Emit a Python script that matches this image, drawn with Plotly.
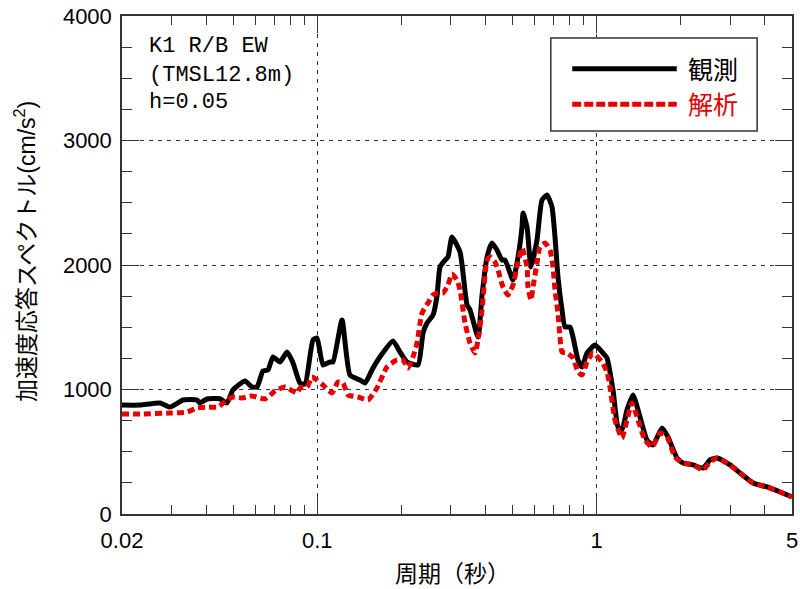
import plotly.graph_objects as go

# ---- data (period [s], spectral acceleration [cm/s^2]) ----
obs_period = [0.0200, 0.0232, 0.0274, 0.0297, 0.0331, 0.0371, 0.0380, 0.0403, 0.0448, 0.0475,
              0.0499, 0.0551, 0.0584, 0.0609, 0.0639, 0.0666, 0.0694, 0.0735, 0.0779, 0.0819,
              0.0867, 0.0904, 0.0965, 0.0998, 0.1048, 0.1110, 0.1138, 0.1226, 0.1309, 0.1422,
              0.1482, 0.1583, 0.1704, 0.1866, 0.1977, 0.2094, 0.2293, 0.2390, 0.2470, 0.2595,
              0.2682, 0.2749, 0.2864, 0.2936, 0.3034, 0.3242, 0.3323, 0.3435, 0.3521, 0.3761,
              0.3887, 0.4050, 0.4219, 0.4396, 0.4581, 0.4697, 0.5017, 0.5229, 0.5404, 0.5449,
              0.5631, 0.5819, 0.6114, 0.6371, 0.6639, 0.6918, 0.7091, 0.7268, 0.7513, 0.7700,
              0.8024, 0.8224, 0.8570, 0.8859, 0.9231, 0.9861, 1.0532, 1.0884, 1.1437, 1.1918,
              1.2314, 1.2832, 1.3486, 1.4289, 1.5136, 1.5907, 1.7131, 1.8000, 1.9380, 2.0362,
              2.2120, 2.4025, 2.5447, 2.6960, 3.0006, 3.2593, 3.6269, 4.0695, 4.5313, 5.0000]
obs_value = [875, 875, 892, 859, 916, 916, 892, 924, 926, 892,
             996, 1068, 1020, 1020, 1149, 1157, 1261, 1221, 1301, 1213,
             1052, 1044, 1398, 1414, 1197, 1221, 1221, 1558, 1116, 1076,
             1052, 1173, 1285, 1390, 1301, 1221, 1197, 1454, 1534, 1598,
             1751, 1984, 2040, 2064, 2225, 2104, 1936, 1679, 1639, 1422,
             1759, 2064, 2177, 2120, 2040, 2040, 1879, 2064, 2305, 2418,
             2305, 1984, 2201, 2522, 2562, 2466, 2225, 1904, 1639, 1502,
             1502, 1422, 1237, 1181, 1293, 1357, 1293, 1253, 996, 699,
             675, 835, 956, 779, 594, 554, 691, 618, 450, 410,
             394, 369, 434, 450, 394, 329, 249, 217, 177, 137]

ana_period = [0.0200, 0.0232, 0.0297, 0.0342, 0.0371, 0.0406, 0.0441, 0.0475, 0.0499, 0.0538,
              0.0584, 0.0650, 0.0706, 0.0766, 0.0846, 0.0867, 0.0919, 0.0957, 0.0998, 0.1048,
              0.1129, 0.1186, 0.1236, 0.1288, 0.1398, 0.1519, 0.1635, 0.1776, 0.1928, 0.2026,
              0.2111, 0.2200, 0.2274, 0.2370, 0.2490, 0.2595, 0.2704, 0.2818, 0.2936, 0.3034,
              0.3162, 0.3242, 0.3379, 0.3521, 0.3669, 0.3761, 0.3887, 0.4050, 0.4152, 0.4325,
              0.4433, 0.4620, 0.4814, 0.5017, 0.5229, 0.5404, 0.5631, 0.5678, 0.5819, 0.5916,
              0.6114, 0.6266, 0.6530, 0.6805, 0.6975, 0.7091, 0.7268, 0.7389, 0.7513, 0.7829,
              0.8224, 0.8570, 0.8859, 0.9231, 0.9699, 1.0445, 1.0884, 1.1158, 1.1628, 1.2314,
              1.2832, 1.3374, 1.4054, 1.4891, 1.5776, 1.6853, 1.7850, 1.9066, 2.0362, 2.2120,
              2.4025, 2.5447, 2.6960, 3.0006, 3.2593, 3.6269, 4.0695, 4.5313, 5.0000]
ana_value = [803, 803, 811, 819, 851, 859, 859, 916, 940, 932,
             948, 924, 988, 1020, 972, 1012, 1020, 1100, 1076, 1036,
             972, 1060, 1052, 956, 940, 916, 1012, 1181, 1237, 1237,
             1173, 1261, 1373, 1614, 1695, 1759, 1775, 1775, 1839, 1928,
             1879, 1799, 1534, 1373, 1293, 1398, 1639, 2040, 2064, 2024,
             1960, 1823, 1759, 1839, 2024, 2137, 1984, 1823, 1719, 1823,
             2016, 2145, 2177, 2120, 1984, 1799, 1614, 1422, 1301, 1293,
             1253, 1141, 1116, 1221, 1293, 1221, 1141, 1020, 755, 610,
             755, 892, 755, 594, 538, 651, 618, 458, 410, 394,
             353, 418, 450, 394, 329, 249, 217, 177, 137]

x_tickvals = [0.02, 0.1, 1, 5]
x_ticktext = ["0.02", "0.1", "1", "5"]
x_minor = [0.03, 0.04, 0.05, 0.06, 0.07, 0.08, 0.09, 0.2, 0.3, 0.4, 0.5, 0.6, 0.7, 0.8, 0.9, 2, 3, 4]
y_tickvals = [0, 1000, 2000, 3000, 4000]

series_names = ["観測", "解析"]
info_lines = ["K1 R/B EW", "(TMSL12.8m)", "h=0.05"]

BLACK = "#000000"
RED = "#e60000"
SANS = "Liberation Sans, Arial, Noto Sans CJK JP"
CJK = "Noto Sans CJK JP, Liberation Sans"
MONO = "Liberation Mono, DejaVu Sans Mono"

fig = go.Figure()
fig.add_trace(go.Scatter(x=obs_period, y=obs_value, mode="lines", name=series_names[0],
                         line=dict(color=BLACK, width=5, shape="spline", smoothing=0.5),
                         showlegend=False))
fig.add_trace(go.Scatter(x=ana_period, y=ana_value, mode="lines", name=series_names[1],
                         line=dict(color=RED, width=5, dash="7px,4px", shape="spline", smoothing=0.5),
                         showlegend=False))

axis_common = dict(showline=True, linecolor="#333333", linewidth=1.5, mirror="allticks",
                   ticks="inside", ticklen=17, tickcolor="#333333", tickwidth=1,
                   showgrid=True, gridcolor="#333333", gridwidth=1, griddash="4px,5px",
                   zeroline=False, automargin=False,
                   tickfont=dict(family=SANS, size=22, color=BLACK))

fig.update_xaxes(type="log", range=[-1.69897, 0.69897], tickvals=x_tickvals, ticktext=x_ticktext,
                 minor=dict(tickvals=x_minor, ticks="inside", ticklen=9, tickcolor="#333333", showgrid=False),
                 ticklabelstandoff=6, **axis_common)
fig.update_yaxes(range=[0, 4000], tickvals=y_tickvals,
                 minor=dict(dtick=250, ticks="inside", ticklen=10, tickcolor="#333333", showgrid=False),
                 ticklabelstandoff=4, **axis_common)

annotations = []
for txt, yy in zip(info_lines, [0.939, 0.8815, 0.827]):
    annotations.append(dict(x=0.0373, y=yy, xref="paper", yref="paper", text=txt, showarrow=False,
                            xanchor="left", yanchor="middle",
                            font=dict(family=MONO, size=22, color=BLACK)))
# legend texts
annotations.append(dict(x=0.842, y=0.896, xref="paper", yref="paper", text=series_names[0], showarrow=False,
                        xanchor="left", yanchor="middle", font=dict(family=CJK, size=25, color=BLACK)))
annotations.append(dict(x=0.842, y=0.825, xref="paper", yref="paper", text=series_names[1], showarrow=False,
                        xanchor="left", yanchor="middle", font=dict(family=CJK, size=25, color=RED)))
# axis titles
annotations.append(dict(x=0.494, y=-0.1165, xref="paper", yref="paper", text="周期（秒）", showarrow=False,
                        xanchor="center", yanchor="middle", font=dict(family=CJK, size=23, color=BLACK)))
annotations.append(dict(x=-0.1448, y=0.528, xref="paper", yref="paper",
                        text="加速度応答スペクトル(cm/s<sup>2</sup>)", showarrow=False, textangle=-90,
                        xanchor="center", yanchor="middle", font=dict(family=SANS, size=23, color=BLACK)))

shapes = [
    dict(type="rect", xref="paper", yref="paper", x0=0.640, x1=0.948, y0=0.769, y1=0.956,
         line=dict(color="#333333", width=1.5), fillcolor="white", layer="above"),
    dict(type="line", xref="paper", yref="paper", x0=0.672, x1=0.828, y0=0.894, y1=0.894,
         line=dict(color=BLACK, width=5)),
    dict(type="line", xref="paper", yref="paper", x0=0.672, x1=0.828, y0=0.823, y1=0.823,
         line=dict(color=RED, width=5, dash="9px,3px")),
]

fig.update_layout(width=800, height=589, margin=dict(l=122, r=8, t=16, b=75, autoexpand=False),
                  paper_bgcolor="white", plot_bgcolor="white", showlegend=False,
                  annotations=annotations, shapes=shapes)

fig.write_html("out.html", config={"displayModeBar": False},
               post_script="document.body.style.margin='0';document.body.style.overflow='hidden';")
